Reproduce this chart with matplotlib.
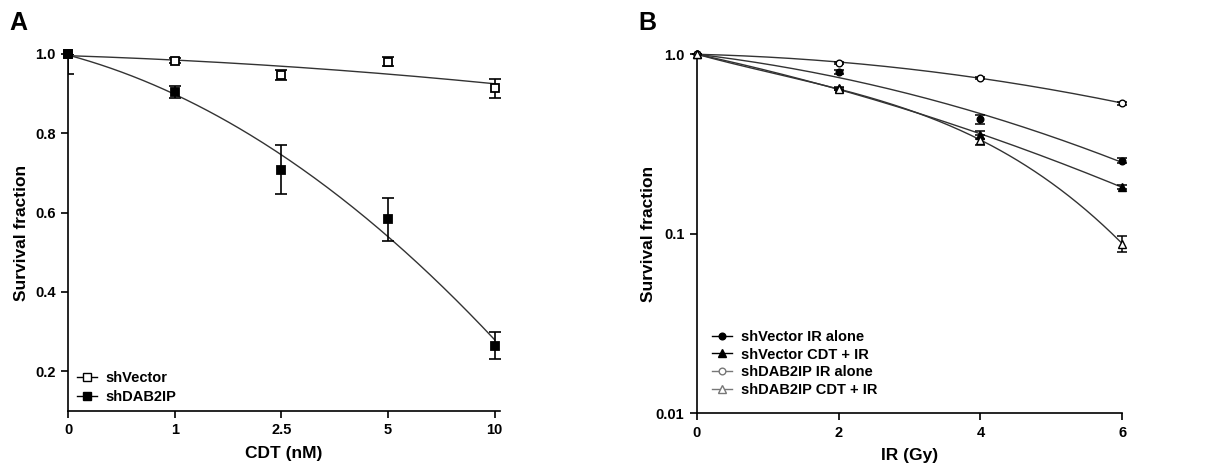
import matplotlib
matplotlib.use("Agg")
import matplotlib.pyplot as plt
import numpy as np

plt.rcParams["font.family"] = ["Liberation Sans", "DejaVu Sans"]
plt.rcParams["font.weight"] = "bold"
plt.rcParams["axes.labelweight"] = "bold"

# Panel A: survival vs CDT dose (categorical x)
cdt_labels = ["0", "1", "2.5", "5", "10"]
vec_a = [1.0, 0.983, 0.947, 0.980, 0.913]
vec_a_err = [0.05, 0.006, 0.013, 0.011, 0.023]
dab_a = [1.0, 0.905, 0.708, 0.583, 0.264]
dab_a_err = [0.0, 0.015, 0.062, 0.054, 0.034]

# Panel B: survival vs IR dose (log y)
ir_dose = [0, 2, 4, 6]
vec_ir = [1.0, 0.794, 0.436, 0.255]
vec_ir_err = [0.0, 0.02, 0.025, 0.008]
vec_cdt_ir = [1.0, 0.646, 0.355, 0.182]
vec_cdt_ir_err = [0.0, 0.01, 0.02, 0.005]
dab_ir = [1.0, 0.898, 0.741, 0.533]
dab_ir_err = [0.0, 0.01, 0.01, 0.01]
dab_cdt_ir = [1.0, 0.640, 0.333, 0.088]
dab_cdt_ir_err = [0.0, 0.01, 0.02, 0.0085]


def dose_fit(dose, surv, deg=2):
    # polynomial fit of log survival through the origin
    d = np.asarray(dose, float)
    A = np.column_stack([d ** k for k in range(1, deg + 1)])
    coef = np.linalg.lstsq(A, np.log10(surv), rcond=None)[0]
    xs = np.linspace(0, d.max(), 200)
    ys = sum(c * xs ** (k + 1) for k, c in enumerate(coef))
    return xs, 10 ** ys


fig = plt.figure(figsize=(12.21, 4.68), dpi=100)
axA = fig.add_axes([0.0557, 0.1218, 0.3538, 0.763])
axB = fig.add_axes([0.5708, 0.1175, 0.3483, 0.7665])

# ---- Panel A
idx = np.arange(len(cdt_labels))
xs = np.linspace(0, idx.max(), 200)
for vals in (vec_a, dab_a):
    p = np.polyfit(idx, vals, 2)
    axA.plot(xs, np.polyval(p, xs), color="#333333", lw=1.0, clip_on=False)

for vals, err, fc in ((vec_a, vec_a_err, "white"), (dab_a, dab_a_err, "black")):
    axA.errorbar(idx, vals, yerr=err, fmt="none", ecolor="black", elinewidth=1.2,
                 capsize=4, capthick=1.2, zorder=3)
    axA.plot(idx, vals, "s", ms=5.5, mfc=fc, mec="black", mew=1.3,
             clip_on=False, zorder=4)

axA.set_xlim(0, 4.05)
axA.set_ylim(0.1, 1.0)
axA.set_xticks(idx)
axA.set_xticklabels(cdt_labels)
axA.set_yticks([0.2, 0.4, 0.6, 0.8, 1.0])
axA.set_yticklabels(["0.2", "0.4", "0.6", "0.8", "1.0"])
axA.set_xlabel("CDT (nM)", fontsize=12.5, labelpad=6)
axA.set_ylabel("Survival fraction", fontsize=12.5, labelpad=4)

hA = [plt.Line2D([], [], color="black", lw=1, marker="s", ms=5.5, mfc="white", mec="black"),
      plt.Line2D([], [], color="black", lw=1, marker="s", ms=5.5, mfc="black", mec="black")]
axA.legend(hA, ["shVector", "shDAB2IP"], loc="lower left", bbox_to_anchor=(0.02, 0.02),
           frameon=False, fontsize=10.5, handlelength=1.4, handletextpad=0.6,
           labelspacing=0.3, borderpad=0, borderaxespad=0)

# ---- Panel B
series = [
    (vec_ir, vec_ir_err, "o", "black", "shVector IR alone", 2),
    (vec_cdt_ir, vec_cdt_ir_err, "^", "black", "shVector CDT + IR", 2),
    (dab_ir, dab_ir_err, "o", "white", "shDAB2IP IR alone", 2),
    (dab_cdt_ir, dab_cdt_ir_err, "^", "white", "shDAB2IP CDT + IR", 3),
]
hB = []
for vals, err, mk, fc, lab, deg in series:
    ms = 4.8 if mk == "o" else 6.2
    fx, fy = dose_fit(ir_dose, vals, deg)
    axB.plot(fx, fy, color="#333333", lw=1.0, clip_on=False)
    axB.errorbar(ir_dose, vals, yerr=err, fmt=mk, ms=ms, mfc=fc, mec="black",
                 ecolor="black", elinewidth=1.1, capsize=3.5, capthick=1.1,
                 clip_on=False, zorder=3)
    lc = "black" if fc == "black" else "#777777"
    hB.append(plt.Line2D([], [], color=lc, lw=1, marker=mk, ms=ms, mfc=fc, mec=lc))

axB.set_yscale("log")
axB.set_xlim(0, 6)
axB.set_ylim(0.01, 1.0)
axB.set_xticks([0, 2, 4, 6])
axB.set_yticks([0.01, 0.1, 1.0])
axB.set_yticklabels(["0.01", "0.1", "1.0"])
axB.yaxis.set_minor_locator(matplotlib.ticker.NullLocator())
axB.set_xlabel("IR (Gy)", fontsize=12.5, labelpad=6)
axB.set_ylabel("Survival fraction", fontsize=12.5, labelpad=0)
axB.legend(hB, [s[4] for s in series], loc="lower left", bbox_to_anchor=(0.035, 0.045),
           frameon=False, fontsize=10.5, handlelength=1.4, handletextpad=0.6,
           labelspacing=0.25, borderpad=0, borderaxespad=0)

for ax in (axA, axB):
    ax.spines["top"].set_visible(False)
    ax.spines["right"].set_visible(False)
    ax.spines["left"].set_linewidth(1.2)
    ax.spines["bottom"].set_linewidth(1.2)
    ax.tick_params(direction="out", length=5, width=1.2, labelsize=10.5, pad=4)

fig.text(0.008, 0.935, "A", fontsize=18, fontweight="bold")
fig.text(0.523, 0.935, "B", fontsize=18, fontweight="bold")

fig.savefig("out.png", dpi=100)
